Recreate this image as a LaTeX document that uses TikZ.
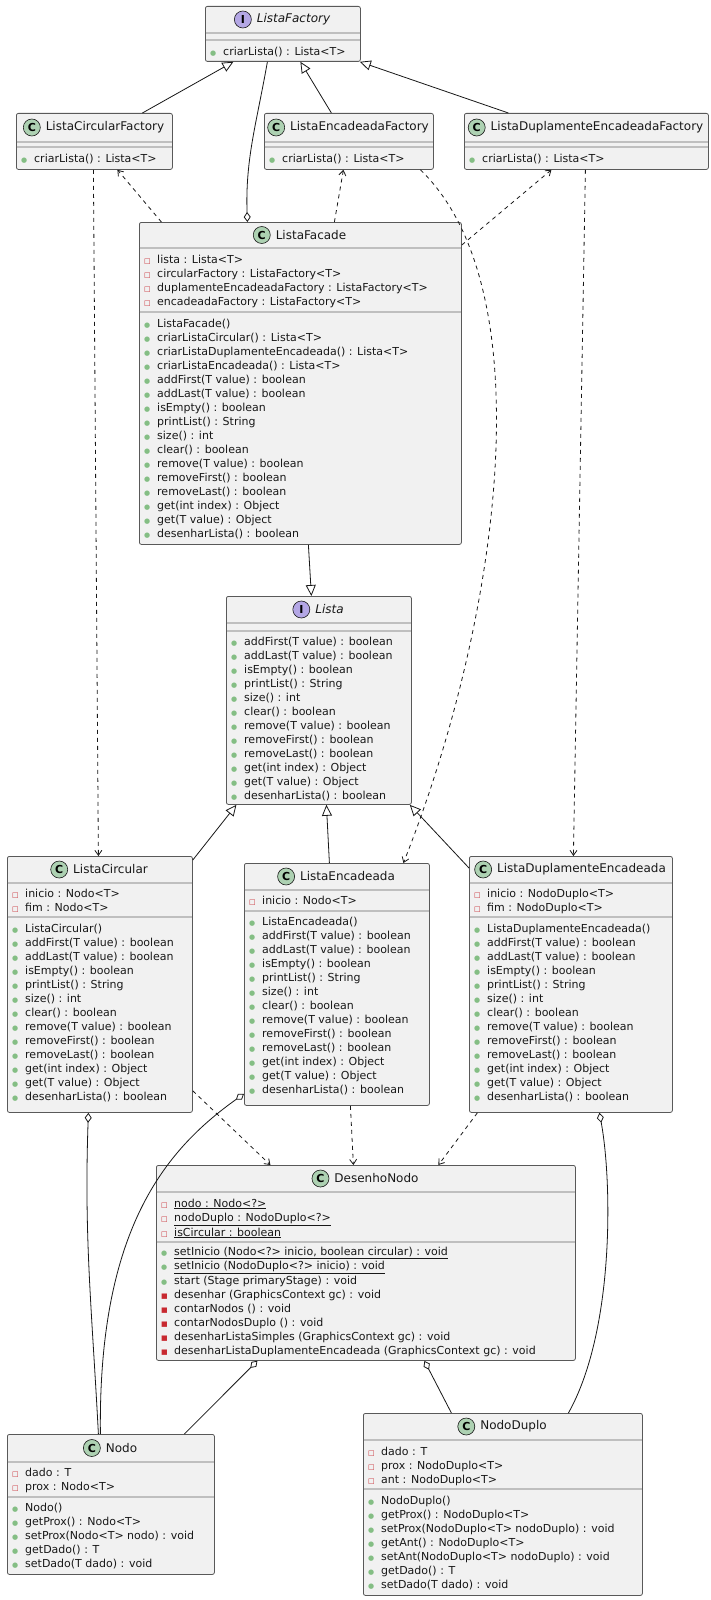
\documentclass[tikz,border=0pt]{standalone}
\usepackage{fontspec}
\setmainfont{DejaVu Sans}
\usetikzlibrary{arrows.meta,positioning}
\definecolor{pubc}{HTML}{84BE84}
\definecolor{privc}{HTML}{C82930}
\definecolor{boxfill}{HTML}{F1F1F1}
\definecolor{iconC}{HTML}{ADD1B2}
\definecolor{iconI}{HTML}{B4A7E5}
\definecolor{ink}{HTML}{181818}
\newcommand\pu{\strut\makebox[13pt][l]{\textcolor{pubc}{\fontsize{7}{7}\selectfont●}}}
\newcommand\pv{\strut\makebox[13pt][l]{\textcolor{privc}{\fontsize{7}{7}\selectfont□}}}
\newcommand\pq{\strut\makebox[13pt][l]{\textcolor{privc}{\fontsize{7}{7}\selectfont■}}}
\tikzset{
 umlbox/.style={draw=gray!70!black, fill=boxfill, line width=0.8pt, rounded corners=2pt, inner sep=0pt},
 sepline/.style={draw=gray!50, line width=1.1pt},
 umltitle/.style={font=\fontsize{12}{14}\selectfont, inner sep=0pt, text=ink},
 iconC/.style={circle, draw=ink, line width=0.6pt, fill=iconC, minimum size=17pt, inner sep=0pt, font=\fontsize{11}{11}\selectfont\bfseries},
 iconI/.style={circle, draw=ink, line width=0.6pt, fill=iconI, minimum size=17pt, inner sep=0pt, font=\fontsize{11}{11}\selectfont\bfseries},
 members/.style={anchor=north west, align=left, inner sep=0pt, font=\fontsize{11}{14}\selectfont, text=ink},
 edge/.style={draw=ink, line width=0.8pt},
 realize/.style={edge, -{Triangle[open,length=11pt,width=10pt]}},
 dep/.style={edge, dash pattern=on 4pt off 4pt, -{Straight Barb[length=5pt,width=7pt]}},
 aggr/.style={edge, {Diamond[open,length=10pt,width=7pt]}-},
}
\newcommand\ubox[9]{%
 \node[umlbox, minimum width={(#4-#2)*1pt}, minimum height={(#5-#3)*1pt}, anchor=north west] (#1) at (#2,#3) {};
 \draw[sepline] (#2+0.5,#6) -- (#4-0.5,#6);
 \draw[sepline] (#2+0.5,#7) -- (#4-0.5,#7);
 \node[umltitle] (#1-t) at ({(#2+#4)/2+11},{(#3+#6)/2}) {#9};
 \node[icon#8, left=5pt of #1-t] (#1-i) {#8};
}
\begin{document}
\begin{tikzpicture}[x=1pt,y=-1pt]
\useasboundingbox[fill=white] (0,0) rectangle (710,1600);

% ---------- boxes ----------
\ubox{LF}{205}{6}{360}{61}{33}{40}{I}{\itshape ListaFactory}
\node[members] (LF-m) at (210,45.5) {\pu criarLista() : Lista<T>};

\ubox{LCF}{16}{113}{172}{169}{142}{147}{C}{ListaCircularFactory}
\node[members] (LCF-m) at (21,152.5) {\pu criarLista() : Lista<T>};

\ubox{LEF}{264}{113}{433}{169}{142}{147}{C}{ListaEncadeadaFactory}
\node[members] (LEF-m) at (269,152.5) {\pu criarLista() : Lista<T>};

\ubox{LDEF}{464}{113}{708}{169}{142}{147}{C}{ListaDuplamenteEncadeadaFactory}
\node[members] (LDEF-m) at (469,152.5) {\pu criarLista() : Lista<T>};

\ubox{LFac}{139}{222}{461}{544}{248}{312}{C}{ListaFacade}
\node[members] (LFac-f) at (144,253.5) {\pv lista : Lista<T>\\ \pv circularFactory : ListaFactory<T>\\ \pv duplamenteEncadeadaFactory : ListaFactory<T>\\ \pv encadeadaFactory : ListaFactory<T>};
\node[members] (LFac-m) at (144,317) {\pu ListaFacade()\\ \pu criarListaCircular() : Lista<T>\\ \pu criarListaDuplamenteEncadeada() : Lista<T>\\ \pu criarListaEncadeada() : Lista<T>\\ \pu addFirst(T value) : boolean\\ \pu addLast(T value) : boolean\\ \pu isEmpty() : boolean\\ \pu printList() : String\\ \pu size() : int\\ \pu clear() : boolean\\ \pu remove(T value) : boolean\\ \pu removeFirst() : boolean\\ \pu removeLast() : boolean\\ \pu get(int index) : Object\\ \pu get(T value) : Object\\ \pu desenharLista() : boolean};

\ubox{Lista}{226}{596}{411}{804}{623}{631}{I}{\itshape Lista}
\node[members] (Lista-m) at (231,635) {\pu addFirst(T value) : boolean\\ \pu addLast(T value) : boolean\\ \pu isEmpty() : boolean\\ \pu printList() : String\\ \pu size() : int\\ \pu clear() : boolean\\ \pu remove(T value) : boolean\\ \pu removeFirst() : boolean\\ \pu removeLast() : boolean\\ \pu get(int index) : Object\\ \pu get(T value) : Object\\ \pu desenharLista() : boolean};

\ubox{LC}{7}{856}{192}{1112}{883}{917}{C}{ListaCircular}
\node[members] (LC-f) at (12,887) {\pv inicio : Nodo<T>\\ \pv fim : Nodo<T>};
\node[members] (LC-m) at (12,922) {\pu ListaCircular()\\ \pu addFirst(T value) : boolean\\ \pu addLast(T value) : boolean\\ \pu isEmpty() : boolean\\ \pu printList() : String\\ \pu size() : int\\ \pu clear() : boolean\\ \pu remove(T value) : boolean\\ \pu removeFirst() : boolean\\ \pu removeLast() : boolean\\ \pu get(int index) : Object\\ \pu get(T value) : Object\\ \pu desenharLista() : boolean};

\ubox{LE}{244}{863}{429}{1105}{890}{911}{C}{ListaEncadeada}
\node[members] (LE-f) at (249,894) {\pv inicio : Nodo<T>};
\node[members] (LE-m) at (249,915) {\pu ListaEncadeada()\\ \pu addFirst(T value) : boolean\\ \pu addLast(T value) : boolean\\ \pu isEmpty() : boolean\\ \pu printList() : String\\ \pu size() : int\\ \pu clear() : boolean\\ \pu remove(T value) : boolean\\ \pu removeFirst() : boolean\\ \pu removeLast() : boolean\\ \pu get(int index) : Object\\ \pu get(T value) : Object\\ \pu desenharLista() : boolean};

\ubox{LDE}{469}{856}{672}{1112}{883}{917}{C}{ListaDuplamenteEncadeada}
\node[members] (LDE-f) at (474,887) {\pv inicio : NodoDuplo<T>\\ \pv fim : NodoDuplo<T>};
\node[members] (LDE-m) at (474,922) {\pu ListaDuplamenteEncadeada()\\ \pu addFirst(T value) : boolean\\ \pu addLast(T value) : boolean\\ \pu isEmpty() : boolean\\ \pu printList() : String\\ \pu size() : int\\ \pu clear() : boolean\\ \pu remove(T value) : boolean\\ \pu removeFirst() : boolean\\ \pu removeLast() : boolean\\ \pu get(int index) : Object\\ \pu get(T value) : Object\\ \pu desenharLista() : boolean};

\ubox{DN}{156}{1165}{575}{1360}{1192}{1242}{C}{DesenhoNodo}
\node[members] (DN-f) at (161,1197) {\pv \underline{nodo : Nodo<?>}\\ \pv \underline{nodoDuplo : NodoDuplo<?>}\\ \pv \underline{isCircular : boolean}};
\node[members] (DN-m) at (161,1245) {\pu \underline{setInicio (Nodo<?> inicio, boolean circular) : void}\\ \pu \underline{setInicio (NodoDuplo<?> inicio) : void}\\ \pu start (Stage primaryStage) : void\\ \pq desenhar (GraphicsContext gc) : void\\ \pq contarNodos () : void\\ \pq contarNodosDuplo () : void\\ \pq desenharListaSimples (GraphicsContext gc) : void\\ \pq desenharListaDuplamenteEncadeada (GraphicsContext gc) : void};

\ubox{N}{7}{1434}{214}{1574}{1462}{1497}{C}{Nodo}
\node[members] (N-f) at (12,1466) {\pv dado : T\\ \pv prox : Nodo<T>};
\node[members] (N-m) at (12,1501) {\pu Nodo()\\ \pu getProx() : Nodo<T>\\ \pu setProx(Nodo<T> nodo) : void\\ \pu getDado() : T\\ \pu setDado(T dado) : void};

\ubox{ND}{363}{1413}{642}{1595}{1440}{1489}{C}{NodoDuplo}
\node[members] (ND-f) at (368,1445) {\pv dado : T\\ \pv prox : NodoDuplo<T>\\ \pv ant : NodoDuplo<T>};
\node[members] (ND-m) at (368,1494) {\pu NodoDuplo()\\ \pu getProx() : NodoDuplo<T>\\ \pu setProx(NodoDuplo<T> nodoDuplo) : void\\ \pu getAnt() : NodoDuplo<T>\\ \pu setAnt(NodoDuplo<T> nodoDuplo) : void\\ \pu getDado() : T\\ \pu setDado(T dado) : void};

% ---------- connectors ----------
\draw[realize] ([xshift=48pt]LCF.north) -- ([xshift=-49.5pt]LF.south);
\draw[realize] ([xshift=-17.5pt]LEF.north) -- ([xshift=17.5pt]LF.south);
\draw[realize] ([xshift=-78pt]LDEF.north) -- ([xshift=-1pt]LF.south east);
\draw[aggr] ([xshift=-53pt]LFac.north) to[out=92,in=-100] ([xshift=-15.5pt]LF.south);
\draw[dep] ([xshift=-139pt]LFac.north) -- ([xshift=23pt]LCF.south);
\draw[dep] ([xshift=34pt]LFac.north) -- ([xshift=-5.5pt]LEF.south);
\draw[dep] ([yshift=-23pt]LFac.north east) -- ([xshift=-35pt]LDEF.south);
\draw[dep] ([xshift=71.5pt]LEF.south) .. controls (545,290) and (500,620) .. ([xshift=66.5pt]LE.north);
\draw[dep] ([xshift=-1pt]LCF.south) -- ([xshift=-1.5pt]LC.north);
\draw[dep] ([xshift=-1pt]LDEF.south) -- ([xshift=2.5pt]LDE.north);
\draw[realize] ([xshift=8pt]LFac.south) -- ([xshift=-7.5pt]Lista.north);
\draw[realize] ([yshift=-4pt]LC.north east) -- ([xshift=-82.5pt]Lista.south);
\draw[realize] ([xshift=-7.5pt]LE.north) -- ([xshift=7.5pt]Lista.south);
\draw[realize] ([yshift=-12pt]LDE.north west) -- ([xshift=-2pt]Lista.south east);
\draw[dep] ([yshift=22pt]LC.south east) -- ([xshift=-95.5pt]DN.north);
\draw[dep] ([xshift=13.5pt]LE.south) -- ([xshift=-12.5pt]DN.north);
\draw[dep] ([xshift=-93.5pt]LDE.south) -- ([xshift=72.5pt]DN.north);
\draw[aggr] ([xshift=-11.5pt]LC.south) to[out=-92,in=93] ([xshift=-12.5pt]N.north);
\draw[aggr] ([yshift=12pt]LE.south west) .. controls (165,1150) and (98,1230) .. ([xshift=-10.5pt]N.north);
\draw[aggr] ([xshift=28.5pt]LDE.south) .. controls (612,1180) and (615,1330) .. ([xshift=65.5pt]ND.north);
\draw[aggr] ([xshift=-108.5pt]DN.south) -- ([xshift=73.5pt]N.north);
\draw[aggr] ([xshift=58.5pt]DN.south) -- ([xshift=-51.5pt]ND.north);
\end{tikzpicture}
\end{document}
